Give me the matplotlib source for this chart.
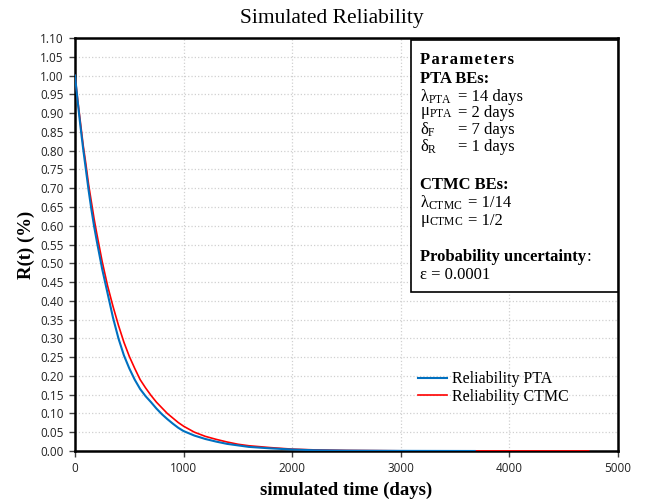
import matplotlib
matplotlib.use('Agg')
import matplotlib.pyplot as plt
import numpy as np
from matplotlib.patches import Rectangle

matplotlib.rcParams.update({'font.family': 'sans-serif', 'font.sans-serif': ['Open Sans', 'DejaVu Sans'],
                            'mathtext.fontset': 'custom', 'mathtext.rm': 'Liberation Serif',
                            'mathtext.it': 'Liberation Serif:italic', 'mathtext.bf': 'Liberation Serif:bold'})

# simulated time (days) and reliability values
t_pta = [0, 25, 50, 75, 100, 125, 150, 175, 200, 250, 300, 350, 400, 450, 500, 550, 600, 650, 700, 750, 800,
         850, 900, 950, 1000, 1100, 1200, 1300, 1400, 1500, 1600, 1800, 2000, 2200, 2500, 3000, 3680]
r_pta = [1.00, 0.93, 0.865, 0.805, 0.75, 0.695, 0.645, 0.60, 0.56, 0.485, 0.42, 0.355, 0.30, 0.255, 0.22, 0.19,
         0.165, 0.146, 0.13, 0.113, 0.098, 0.085, 0.073, 0.062, 0.053, 0.041, 0.032, 0.025, 0.019, 0.015, 0.011,
         0.007, 0.004, 0.002, 0.001, 0.0003, 0.0]
t_ctmc = [0, 25, 50, 75, 100, 125, 150, 175, 200, 250, 300, 350, 400, 450, 500, 550, 600, 650, 700, 750, 800,
          850, 900, 950, 1000, 1100, 1200, 1300, 1400, 1500, 1600, 1800, 2000, 2200, 2500, 3000, 3500, 4000, 4730]
r_ctmc = [1.00, 0.935, 0.875, 0.815, 0.765, 0.71, 0.665, 0.62, 0.58, 0.505, 0.44, 0.385, 0.335, 0.29, 0.252,
          0.22, 0.19, 0.168, 0.148, 0.13, 0.115, 0.10, 0.088, 0.076, 0.066, 0.05, 0.039, 0.031, 0.024, 0.018,
          0.014, 0.009, 0.005, 0.003, 0.0015, 0.0005, 0.0002, 0.0001, 0.0]

W, H = 656, 504
fig = plt.figure(figsize=(W / 100, H / 100), dpi=100)
ax = fig.add_axes([75 / W, 1 - 451 / H, (618 - 75) / W, (451 - 38) / H])

ax.plot(t_ctmc, r_ctmc, color='#FF0000', lw=1.2, label='Reliability CTMC', zorder=3)
ax.plot(t_pta, r_pta, color='#0070C0', lw=1.5, label='Reliability PTA', zorder=4)

ax.set_xlim(0, 5000)
ax.set_ylim(0, 1.10)
ax.set_xticks(np.arange(0, 5001, 1000))
ax.set_yticks(np.arange(0, 1.1001, 0.05))
ax.set_yticklabels([f'{v:.2f}' for v in np.arange(0, 1.1001, 0.05)])
ax.tick_params(axis='both', direction='out', length=4, width=1, color='#404040', labelsize=8.5,
               labelcolor='#222222', pad=4)
ax.grid(True, color='#D0D0D0', linestyle=':', linewidth=0.9)
ax.set_axisbelow(True)
for s in ax.spines.values():
    s.set_linewidth(1.8)
    s.set_color('black')

fig.text(332 / W, 1 - 19 / H, 'Simulated Reliability', ha='center', va='center', fontsize=15.5,
         family='Liberation Serif')
ax.set_ylabel('R(t) (%)', fontsize=13.5, fontweight='bold', family='Liberation Serif', labelpad=4)
ax.set_xlabel('simulated time (days)', fontsize=13.5, fontweight='bold', family='Liberation Serif', labelpad=5)

# legend
handles, labels = ax.get_legend_handles_labels()
ax.legend(handles[::-1], labels[::-1], loc='upper left', bbox_to_anchor=(404 / W, 1 - 357 / H),
          bbox_transform=fig.transFigure, frameon=False, handlelength=1.8, handletextpad=0.3,
          labelspacing=0.1, prop={'family': 'Liberation Serif', 'size': 11.5})

# parameters box
box = Rectangle((411 / W, 1 - 292 / H), (618 - 411) / W, (292 - 40) / H, transform=fig.transFigure,
                facecolor='white', edgecolor='black', linewidth=1.2, zorder=5)
fig.patches.append(box)

def ftxt(x, y, s, size=12, **kw):
    return fig.text(x / W, 1 - y / H, s, ha='left', va='center', family='Liberation Serif', fontsize=size,
                    zorder=6, **kw)

ftxt(420, 60, '\u200a'.join('Parameters'), size=12, fontweight='bold')
ftxt(420, 79, 'PTA BEs:', fontweight='bold')
ftxt(420, 97, r'λ$_{\mathrm{PTA}}$')
ftxt(458, 97, '= 14 days')
ftxt(420, 113, r'μ$_{\mathrm{PTA}}$')
ftxt(458, 113, '= 2 days')
ftxt(420, 130, r'δ$_{\mathrm{F}}$')
ftxt(458, 130, '= 7 days')
ftxt(420, 147, r'δ$_{\mathrm{R}}$')
ftxt(458, 147, '= 1 days')
ftxt(420, 185, 'CTMC BEs:', fontweight='bold')
ftxt(420, 203, r'λ$_{\mathrm{CTMC}}$')
ftxt(468, 203, '= 1/14')
ftxt(420, 221, r'μ$_{\mathrm{CTMC}}$')
ftxt(468, 221, '= 1/2')
pu = ftxt(420, 257, 'Probability uncertainty', fontweight='bold')
bb = pu.get_window_extent(renderer=fig.canvas.get_renderer())
ftxt(bb.x1 + 1, 257, ':')
ftxt(420, 275, 'ε = 0.0001')

fig.savefig('out.png', dpi=100)
